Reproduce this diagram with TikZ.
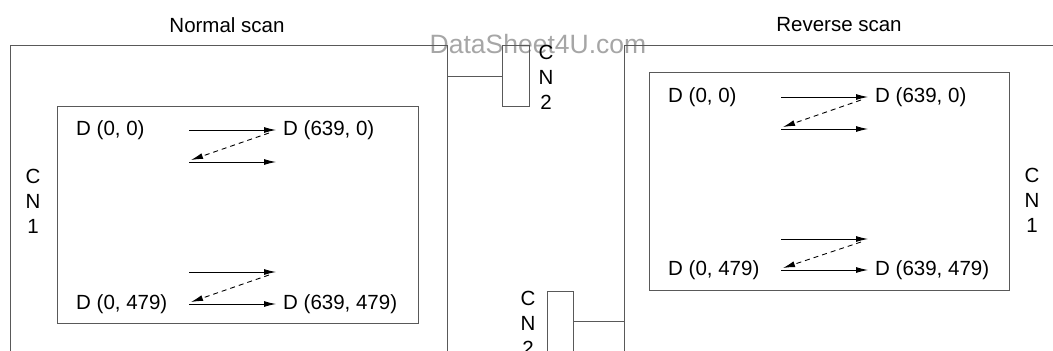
\documentclass[tikz,border=0pt]{standalone}
\usepackage{fontspec}
\setmainfont{Liberation Sans}
\usetikzlibrary{arrows.meta,calc}
\begin{document}
\begin{tikzpicture}[x=1pt,y=-1pt,
  frame/.style={draw=black!65,line width=1pt},
  boxnode/.style={frame,rectangle,inner sep=0pt,anchor=north west},
  lbl/.style={inner sep=0pt,anchor=west,font=\fontsize{20.5}{24}\selectfont},
  ttl/.style={inner sep=0pt,font=\fontsize{20.5}{24}\selectfont},
  cn/.style={inner sep=0pt,align=center,font=\fontsize{20.5}{25}\selectfont},
  wmark/.style={inner sep=0pt,text=black!35,font=\fontsize{26.5}{30}\selectfont},
  scanarrow/.style={line width=0.9pt,-{Latex[length=12pt,width=6pt]}},
  retrace/.style={scanarrow,dash pattern=on 5pt off 4pt}]
\clip (0,0) rectangle (1053,351);
\fill[white] (0,0) rectangle (1053,351);
% watermark
\node[wmark] (wm) at (538,44) {DataSheet4U.com};
% titles
\node[ttl] (tn) at (227,25) {Normal scan};
\node[ttl] (tr) at (839,25) {Reverse scan};
% outer boxes
\node[boxnode,minimum width=437pt,minimum height=360pt] (outerL) at (10,45) {};
\node[boxnode,minimum width=480pt,minimum height=360pt] (outerR) at (624,45) {};
% inner screens
\node[boxnode,minimum width=361pt,minimum height=217pt] (scrL) at (57,106) {};
\node[boxnode,minimum width=360pt,minimum height=218pt] (scrR) at (649,72) {};
% CN2 connectors
\node[boxnode,minimum width=27pt,minimum height=61pt] (cn2a) at (502,45) {};
\draw[frame] (cn2a.west -| outerL.east) -- (cn2a.west);
\node[boxnode,minimum width=26pt,minimum height=120pt] (cn2b) at (547,291) {};
\coordinate (j2) at (573,321);
\draw[frame] (j2) -- (j2 -| outerR.west);
% CN labels
\node[cn] (cn1L) at (33,201) {C\\N\\1};
\node[cn] (cn1R) at (1032,200) {C\\N\\1};
\node[cn] (cn2aT) at (546,77) {C\\N\\2};
\node[cn] (cn2bT) at (528,323) {C\\N\\2};
% Normal scan labels
\node[lbl] (nL00) at (76,130) {D (0, 0)};
\node[lbl] (nL6390) at (283,130) {D (639, 0)};
\node[lbl] (nL0479) at (76,304) {D (0, 479)};
\node[lbl] (nL639479) at (283,304) {D (639, 479)};
% Reverse scan labels
\node[lbl] (rL00) at (668,97) {D (0, 0)};
\node[lbl] (rL6390) at (875,97) {D (639, 0)};
\node[lbl] (rL0479) at (668,270) {D (0, 479)};
\node[lbl] (rL639479) at (875,270) {D (639, 479)};
% Normal scan arrows
\coordinate (na1) at (189,130); \coordinate (nb1) at (276,130);
\coordinate (na2) at (189,162); \coordinate (nb2) at (276,162);
\coordinate (na3) at (189,272); \coordinate (nb3) at (276,272);
\coordinate (na4) at (189,304); \coordinate (nb4) at (276,304);
\draw[scanarrow] (na1) -- (nb1);
\draw[retrace] ($(nb1)+(-7,3)$) -- ($(na2)+(2,-2)$);
\draw[scanarrow] (na2) -- (nb2);
\draw[scanarrow] (na3) -- (nb3);
\draw[retrace] ($(nb3)+(-7,3)$) -- ($(na4)+(2,-2)$);
\draw[scanarrow] (na4) -- (nb4);
% Reverse scan arrows
\coordinate (ra1) at (781,97); \coordinate (rb1) at (868,97);
\coordinate (ra2) at (781,129); \coordinate (rb2) at (868,129);
\coordinate (ra3) at (781,239); \coordinate (rb3) at (868,239);
\coordinate (ra4) at (781,270); \coordinate (rb4) at (868,270);
\draw[scanarrow] (ra1) -- (rb1);
\draw[retrace] ($(rb1)+(-7,3)$) -- ($(ra2)+(2,-2)$);
\draw[scanarrow] (ra2) -- (rb2);
\draw[scanarrow] (ra3) -- (rb3);
\draw[retrace] ($(rb3)+(-7,3)$) -- ($(ra4)+(2,-2)$);
\draw[scanarrow] (ra4) -- (rb4);
\end{tikzpicture}
\end{document}
